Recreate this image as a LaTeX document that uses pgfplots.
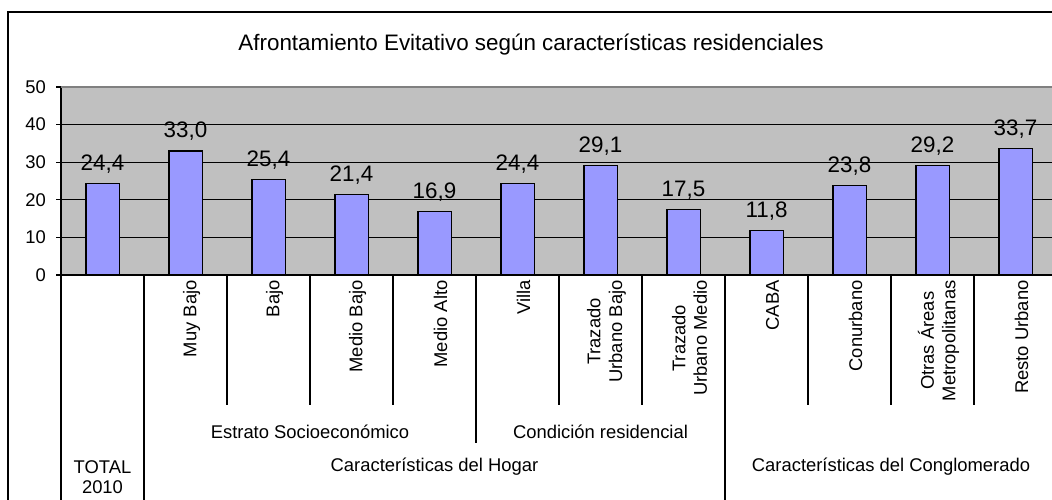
\documentclass[border=0pt]{standalone}
\usepackage{fontspec}
\setmainfont{Liberation Sans}
\usepackage{pgfplots}
\pgfplotsset{compat=1.18}

\definecolor{barblue}{HTML}{9999FF}
\definecolor{plotgray}{HTML}{C0C0C0}
\definecolor{framegray}{HTML}{808080}

\newcommand{\fbig}{\fontsize{11.2}{13}\selectfont}
\newcommand{\fsmall}{\fontsize{9.2}{10.8}\selectfont}

\begin{document}
\begin{tikzpicture}
% page = 1052 x 499 px, 1 px = 0.5 pt
\path[use as bounding box] (0,0) rectangle (526pt,249.5pt);
\clip (0,0) rectangle (526pt,249.5pt);

\begin{axis}[
    at={(30.5pt,112pt)}, anchor=south west,
    scale only axis,
    width=495.5pt, height=94pt,
    xmin=-0.5, xmax=11.44,
    ymin=0, ymax=50,
    ytick={0,10,...,50},
    xtick={0,...,11},
    xticklabels={,Muy Bajo,Bajo,Medio Bajo,Medio Alto,Villa,{Trazado\\Urbano Bajo},{Trazado\\Urbano Medio},CABA,Conurbano,{Otras Áreas\\Metropolitanas},Resto Urbano},
    xticklabel style={rotate=90, anchor=east, align=center, font=\fsmall, inner sep=0pt, yshift=-3pt},
    yticklabel style={font=\fsmall, xshift=-1.5pt},
    /pgf/number format/assume math mode=true,
    axis x line*=bottom, axis y line*=left,
    axis line style={black, line width=0.6pt},
    tick align=outside,
    major tick length=2.5pt,
    xtick style={draw=none},
    ytick style={black, line width=0.6pt},
    ymajorgrids,
    grid style={black, line width=0.6pt},
    axis background/.style={fill=plotgray},
    ybar, bar width=0.4,
    enlargelimits=false,
    clip=false,
    nodes near coords,
    nodes near coords style={font=\fbig, yshift=1.5pt, /pgf/number format/.cd, fixed, fixed zerofill, precision=1, use comma},
]
\addplot[fill=barblue, draw=black, line width=0.6pt] coordinates {
    (0,24.4) (1,33.0) (2,25.4) (3,21.4) (4,16.9) (5,24.4)
    (6,29.1) (7,17.5) (8,11.8) (9,23.8) (10,29.2) (11,33.7)
};
\draw[framegray, line width=0.8pt] (rel axis cs:0,1) -- (rel axis cs:1,1);
\end{axis}

\begin{scope}[shift={(0,249.5pt)}, x=0.5pt, y=-0.5pt]
  % outer chart frame
  \draw[black, line width=0.7pt] (8,12) rectangle (1120,560);
  % title
  \node[font=\fbig] at (531,45) {Afrontamiento Evitativo según características residenciales};
  % category separators
  \foreach \x in {61,144,725} \draw[black, line width=0.6pt] (\x,275) -- (\x,520);
  \foreach \x in {227,310,393,559,642,808,891,974} \draw[black, line width=0.6pt] (\x,275) -- (\x,405);
  \draw[black, line width=0.6pt] (476,275) -- (476,443);
  % group labels
  \node[font=\fsmall] at (310,432) {Estrato Socioeconómico};
  \node[font=\fsmall] at (600.5,432) {Condición residencial};
  \node[font=\fsmall] at (434.5,467) {Características del Hogar};
  \node[font=\fsmall] at (891,467) {Características del Conglomerado};
  \node[font=\fsmall] at (102.5,467) {TOTAL};
  \node[font=\fsmall] at (102.5,487) {2010};
\end{scope}
\end{tikzpicture}
\end{document}
